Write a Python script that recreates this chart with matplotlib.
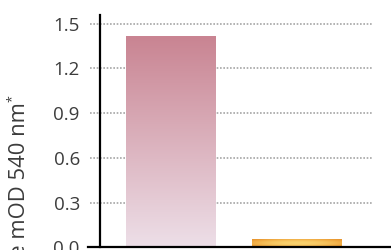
import numpy as np
import matplotlib
matplotlib.use("Agg")
import matplotlib.pyplot as plt
from matplotlib.colors import LinearSegmentedColormap

categories = ["Sample A", "Sample B"]
values = [1.41, 0.05]
yticks = [0.0, 0.3, 0.6, 0.9, 1.2, 1.5]
ytick_labels = ["0.0", "0.3", "0.6", "0.9", "1.2", "1.5"]
ylabel = "Relative mOD 540 nm"

plt.rcParams['font.family'] = ['Open Sans', 'DejaVu Sans']

W, H = 391, 250
fig = plt.figure(figsize=(W / 100, H / 100), dpi=100)
ax = fig.add_axes([100 / W, 2.6 / H, 291 / W, 232.4 / H])
ax.set_xlim(-0.566, 1.753)
ax.set_ylim(0, 1.558)

for s in ["top", "right", "bottom"]:
    ax.spines[s].set_visible(False)
ax.spines["left"].set_linewidth(1.6)
ax.spines["left"].set_color("black")

# dotted gridlines extending slightly beyond the axis
ax.hlines(yticks, -0.034, 0.935, transform=ax.get_yaxis_transform(),
          colors="#a6a6a6", linewidth=1.2, linestyles=(0, (1, 1)),
          clip_on=False, zorder=1)
# x axis line
ax.plot([-0.041, 1.0], [0, 0], transform=ax.get_yaxis_transform(),
        color="black", linewidth=1.6, clip_on=False, zorder=5)

ax.set_yticks(yticks)
ax.set_yticklabels(ytick_labels)
ax.tick_params(axis="y", length=0, pad=14.5, labelsize=13.5, labelcolor="#3c3c3c")
ax.set_xticks([])

width = 0.717
# bar 1: vertical pink gradient
pink = LinearSegmentedColormap.from_list("pink", ["#eddfe8", "#c98492"])
grad = np.linspace(0, 1, 256).reshape(-1, 1)
x0 = 0 - width / 2
ax.imshow(grad, cmap=pink, origin="lower", aspect="auto",
          extent=[x0, x0 + width, 0, values[0]], zorder=3)

# bar 2: orange gradient (light center, darker edges)
orange = LinearSegmentedColormap.from_list("orange", ["#e8962f", "#f2b24a", "#f9d26e"])
xs = np.linspace(-1, 1, 256)
ys = np.linspace(-1, 1, 32)
X, Y = np.meshgrid(xs, ys)
Z = 1 - np.clip(0.6 * X ** 2 + 0.6 * Y ** 2, 0, 1)
x1 = 1 - width / 2
ax.imshow(Z, cmap=orange, origin="lower", aspect="auto",
          extent=[x1, x1 + width, 0, values[1]], zorder=3)

ax.set_xlim(-0.566, 1.753)
ax.set_ylim(0, 1.558)

fig.text(20 / W, 1 - 102 / H, ylabel, rotation=90, ha="center", va="top",
         fontsize=15.8, color="#3c3c3c")
fig.text(12 / W, 1 - 95 / H, "*", rotation=90, ha="center", va="top",
         fontsize=9, color="#3c3c3c")

fig.savefig("out.png", dpi=100)
